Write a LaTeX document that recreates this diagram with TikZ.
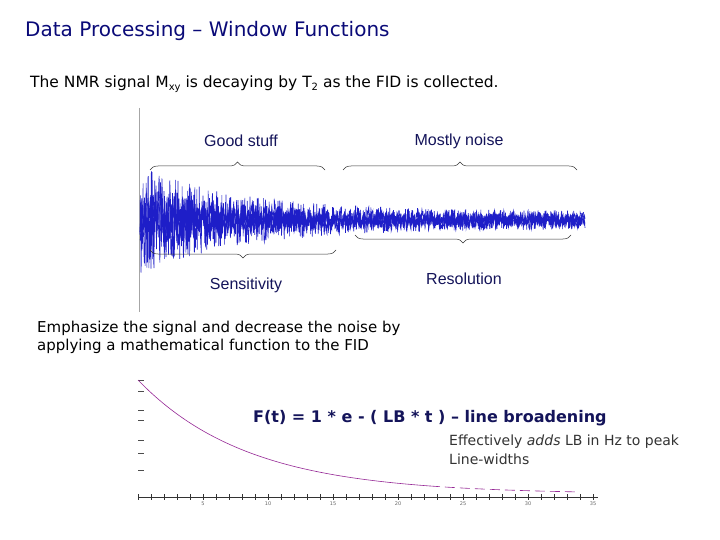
\documentclass[tikz,border=0pt]{standalone}
\usepackage{fontspec}
\setmainfont{DejaVu Sans}
\newfontfamily\arial{Liberation Sans}
\usetikzlibrary{decorations.pathreplacing}
\definecolor{navy}{RGB}{20,20,90}
\definecolor{titleblue}{RGB}{10,10,120}
\definecolor{sig}{RGB}{30,30,200}
\definecolor{curve}{RGB}{150,40,150}
\tikzset{
  lbl/.style={font=\arial\fontsize{16}{18}\selectfont, text=navy, inner sep=0},
  brc/.style={draw=black!80, line width=0.5pt, decorate, decoration={brace, amplitude=8pt}},
  txt/.style={font=\fontsize{15}{18}\selectfont, inner sep=0, anchor=west},
}
\begin{document}
\begin{tikzpicture}[x=1pt,y=-1pt]
\useasboundingbox (0,0) rectangle (720,540);
\fill[white] (0,0) rectangle (720,540);
\node[txt, anchor=west, font=\fontsize{20}{22}\selectfont, text=titleblue] (title) at (25,31) {Data Processing -- Window Functions};
\node[txt, font=\fontsize{15.5}{18}\selectfont] (intro) at (30,84) {The NMR signal M\raisebox{-0.35ex}{\fontsize{10}{10}\selectfont xy} is decaying by T\raisebox{-0.35ex}{\fontsize{10}{10}\selectfont 2} as the FID is collected.};
% FID
\draw[gray!70, line width=0.8pt] (139,108) -- (139,312);
\pgfmathsetseed{7}
\draw[sig, line width=0.6pt] plot[domain=140:585, samples=1300, variable=\x] (\x, {220 + (9 + 45*exp(-(\x-140)/100))*rand});
\draw[sig, line width=0.6pt] plot[domain=140:585, samples=1000, variable=\x] (\x, {220 + (6 + 28*exp(-(\x-140)/100))*rand});
\draw[sig, line width=0.8pt] plot[domain=140:585, samples=900, variable=\x] (\x, {220 + (4 + 16*exp(-(\x-140)/100))*rand});
% braces
\draw[brc] (150,170) -- (325,170) coordinate[midway] (b1);
\draw[brc] (343,170) -- (577,170) coordinate[midway] (b2);
\draw[brc] (336,250) -- (150,250) coordinate[midway] (b3);
\draw[brc] (571,235) -- (355,235) coordinate[midway] (b4);
\node[lbl] (good) at (241,141) {Good stuff};
\node[lbl] (noise) at (459,141) {Mostly noise};
\node[lbl] (sens) at (246,285) {Sensitivity};
\node[lbl] (res) at (464,279) {Resolution};
\node[txt, align=left, anchor=north west] (emph) at (37,321) {Emphasize the signal and decrease the noise by\\applying a mathematical function to the FID};
% window function plot
\foreach \yy in {380,391,410,420,440,453,470} \draw[black!70] (138,\yy) -- (144,\yy);
\draw[black!80] (138,497) -- (598,497);
\foreach \i in {0,...,35} \draw[black!80] ({138+\i*13},494) -- ({138+\i*13},500);
\foreach \v [count=\k] in {5,10,15,20,25,30,35}
  \node[font=\fontsize{5}{5}\selectfont, text=black!60, inner sep=0] (t\k) at ({138+\k*65},504) {\v};
\draw[curve, line width=0.6pt] plot[domain=138:430, samples=80, variable=\x] (\x, {494 - 114*exp(-(\x-138)/110)});
\draw[curve, line width=0.6pt, dash pattern=on 10pt off 5pt] plot[domain=430:575, samples=40, variable=\x] (\x, {494 - 114*exp(-(\x-138)/110)});
\node[txt, font=\bfseries\fontsize{16}{18}\selectfont, text=navy] (ft) at (253,418) {F(t) = 1 * e - ( LB * t ) -- line broadening};
\node[txt, align=left, anchor=north west, font=\fontsize{14}{19}\selectfont, text=black!80] (eff) at (449,435) {Effectively \textit{adds} LB in Hz to peak\\Line-widths};
\end{tikzpicture}
\end{document}
